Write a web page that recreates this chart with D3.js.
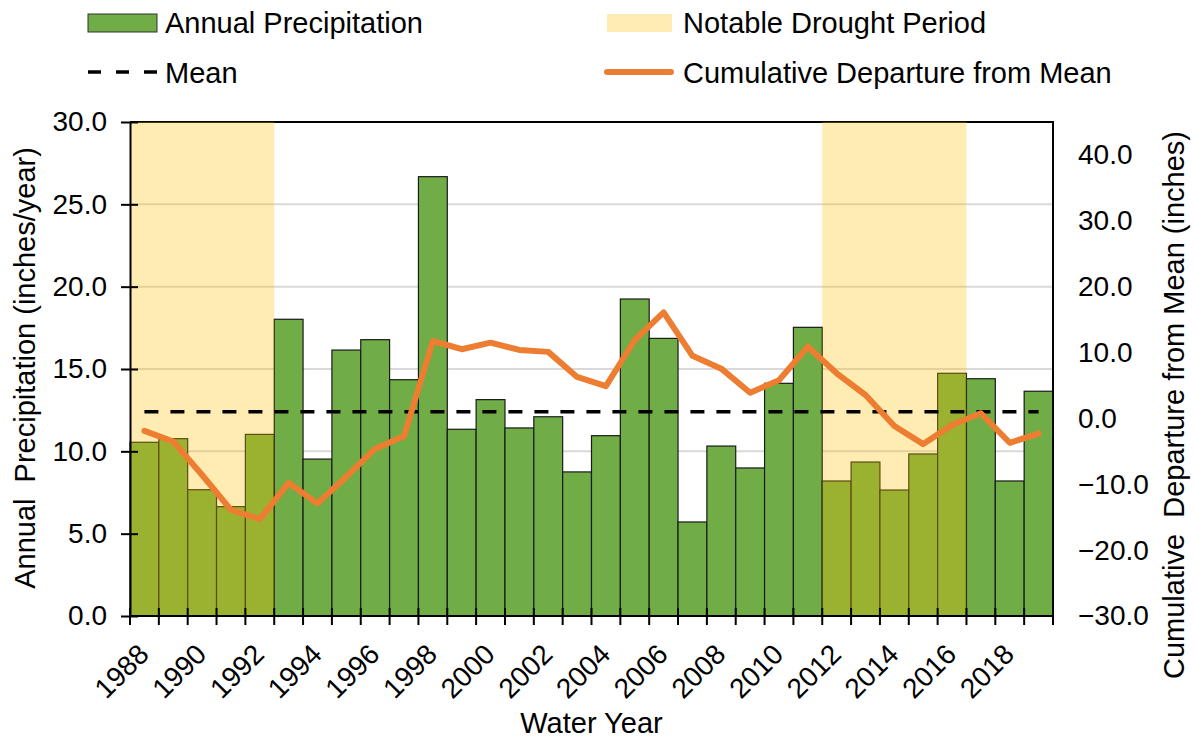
<!DOCTYPE html>
<meta charset="utf-8">
<html>
<head>
<style>
  body { margin: 0; background: #fff; }
  text { font-family: "Liberation Sans", Arial, sans-serif; fill: #000; }
  .title { white-space: pre; }
</style>
</head>
<body>
<div id="chart"></div>

<script src="https://d3js.org/d3.v7.min.js"></script>

<script>
  // values
  var years = [1988, 1989, 1990, 1991, 1992, 1993, 1994, 1995, 1996, 1997,
               1998, 1999, 2000, 2001, 2002, 2003, 2004, 2005, 2006, 2007,
               2008, 2009, 2010, 2011, 2012, 2013, 2014, 2015, 2016, 2017,
               2018, 2019];
  var precip = [10.55, 10.77, 7.67, 6.64, 11.03, 18.02, 9.53, 16.15, 16.78, 14.35,
                26.68, 11.34, 13.14, 11.42, 12.10, 8.75, 10.95, 19.25, 16.86, 5.71,
                10.32, 8.99, 14.13, 17.53, 8.20, 9.35, 7.65, 9.84, 14.74, 14.41,
                8.20, 13.65];
  var cumDeparture = [-1.9, -3.5, -8.6, -13.9, -15.3, -9.8, -12.9, -8.85, -4.6, -2.7,
                      11.75, 10.5, 11.5, 10.4, 10.1, 6.3, 4.9, 11.9, 16.1, 9.5,
                      7.55, 3.9, 5.8, 10.9, 6.85, 3.55, -1.15, -3.9, -1.0, 0.77,
                      -3.7, -2.3];
  var meanPrecip = 12.41;
  var droughtStart = [1988, 2012];
  var droughtEnd = [1992, 2016];
  var leftTicks = [0, 5, 10, 15, 20, 25, 30];
  var rightTicks = [-30, -20, -10, 0, 10, 20, 30, 40];
  var labelYears = [1988, 1990, 1992, 1994, 1996, 1998, 2000, 2002, 2004, 2006,
                    2008, 2010, 2012, 2014, 2016, 2018];

  var green = "#70AD47", gold = "#FFC000", orange = "#ED7D31";

  var margin = {top: 122, right: 142, bottom: 126, left: 130},
      width = 1195 - margin.left - margin.right,
      height = 742 - margin.top - margin.bottom;

  var root = d3.select("#chart")
    .append("svg")
      .attr("width", 1195)
      .attr("height", 742);

  var svg = root.append("g")
      .attr("transform", "translate(" + margin.left + "," + margin.top + ")");

  var x = d3.scaleBand().domain(years).range([0, width]).padding(0);
  var y = d3.scaleLinear().domain([0, 30]).range([height, 0]);
  var y2 = d3.scaleLinear().domain([-30, 45]).range([height, 0]);
  var bw = x.bandwidth();

  // gridlines
  svg.append("g")
    .selectAll("line")
    .data(leftTicks.filter(function(d) { return d > 0 && d < 30; }))
    .enter().append("line")
      .attr("x1", 0).attr("x2", width)
      .attr("y1", function(d) { return y(d); })
      .attr("y2", function(d) { return y(d); })
      .attr("stroke", "#d9d9d9")
      .attr("stroke-width", 2);

  // bars
  svg.append("g")
    .selectAll("rect")
    .data(years)
    .enter().append("rect")
      .attr("x", function(d) { return x(d); })
      .attr("y", function(d, i) { return y(precip[i]); })
      .attr("width", bw)
      .attr("height", function(d, i) { return height - y(precip[i]); })
      .attr("fill", green)
      .attr("stroke", "#1a1a1a")
      .attr("stroke-width", 1.2);

  // plot frame (top / right)
  svg.append("path")
    .attr("d", "M0,0H" + width + "V" + height)
    .attr("fill", "none")
    .attr("stroke", "#000")
    .attr("stroke-width", 2);

  // drought periods, translucent over the bars
  svg.append("g")
    .selectAll("rect")
    .data(droughtStart)
    .enter().append("rect")
      .attr("x", function(d) { return x(d); })
      .attr("y", 0)
      .attr("width", function(d, i) { return x(droughtEnd[i]) + bw - x(d); })
      .attr("height", height)
      .attr("fill", gold)
      .attr("fill-opacity", 0.3);

  // left axis
  var gy = svg.append("g")
    .call(d3.axisLeft(y).tickValues(leftTicks).tickFormat(d3.format(".1f"))
      .tickSizeInner(9).tickSizeOuter(0).tickPadding(14));
  gy.select(".domain").attr("stroke-width", 2);
  gy.selectAll(".tick line").attr("x1", 8).attr("stroke-width", 2);
  gy.selectAll(".tick text").style("font-size", "28px");

  // right axis (labels only)
  var gy2 = svg.append("g")
    .attr("transform", "translate(" + width + ",0)")
    .call(d3.axisRight(y2).tickValues(rightTicks).tickFormat(d3.format(".1f"))
      .tickSize(0).tickPadding(25));
  gy2.select(".domain").remove();
  gy2.selectAll(".tick text").style("font-size", "28px");

  // bottom axis
  var gx = svg.append("g").attr("transform", "translate(0," + height + ")");
  gx.append("line")
    .attr("x1", 0).attr("x2", width)
    .attr("stroke", "#000").attr("stroke-width", 2);
  gx.selectAll(".edge")
    .data(years.concat([null]))
    .enter().append("line")
      .attr("class", "edge")
      .attr("x1", function(d) { return d === null ? width : x(d); })
      .attr("x2", function(d) { return d === null ? width : x(d); })
      .attr("y1", -8).attr("y2", 9)
      .attr("stroke", "#000").attr("stroke-width", 2);
  gx.selectAll(".lbl")
    .data(labelYears)
    .enter().append("text")
      .attr("class", "lbl")
      .attr("transform", function(d) {
        return "translate(" + (x(d) + bw / 2 + 6) + ",40) rotate(-45)";
      })
      .attr("text-anchor", "end")
      .style("font-size", "28px")
      .text(function(d) { return d; });

  // mean line
  svg.append("line")
    .attr("x1", x(years[0]) + bw / 2)
    .attr("x2", x(years[years.length - 1]) + bw / 2)
    .attr("y1", y(meanPrecip))
    .attr("y2", y(meanPrecip))
    .attr("stroke", "#000")
    .attr("stroke-width", 3.5)
    .attr("stroke-dasharray", "14,12");

  // cumulative departure line
  svg.append("path")
    .datum(years)
    .attr("fill", "none")
    .attr("stroke", orange)
    .attr("stroke-width", 6)
    .attr("stroke-linejoin", "round")
    .attr("stroke-linecap", "round")
    .attr("d", d3.line()
      .x(function(d) { return x(d) + bw / 2; })
      .y(function(d, i) { return y2(cumDeparture[i]); }));

  // axis titles
  root.append("text")
    .attr("x", margin.left + width / 2)
    .attr("y", 733)
    .attr("text-anchor", "middle")
    .style("font-size", "29px")
    .text("Water Year");
  root.append("text")
    .attr("class", "title")
    .attr("transform", "translate(35,368) rotate(-90)")
    .attr("text-anchor", "middle")
    .style("font-size", "29px")
    .text("Annual  Precipitation (inches/year)");
  root.append("text")
    .attr("class", "title")
    .attr("transform", "translate(1184,405) rotate(-90)")
    .attr("text-anchor", "middle")
    .style("font-size", "29px")
    .text("Cumulative  Departure from Mean (inches)");

  // legend
  var leg = root.append("g");
  leg.append("rect")
    .attr("x", 88).attr("y", 14).attr("width", 69).attr("height", 18)
    .attr("fill", green).attr("stroke", "#333").attr("stroke-width", 1);
  leg.append("text").attr("x", 165).attr("y", 33)
    .style("font-size", "29px").text("Annual Precipitation");
  leg.append("line")
    .attr("x1", 88).attr("x2", 157).attr("y1", 72).attr("y2", 72)
    .attr("stroke", "#000").attr("stroke-width", 3.5)
    .attr("stroke-dasharray", "13,15");
  leg.append("text").attr("x", 165).attr("y", 83)
    .style("font-size", "29px").text("Mean");
  leg.append("rect")
    .attr("x", 607).attr("y", 14).attr("width", 65).attr("height", 18)
    .attr("fill", gold).attr("fill-opacity", 0.3);
  leg.append("text").attr("x", 683).attr("y", 33)
    .style("font-size", "29px").text("Notable Drought Period");
  leg.append("line")
    .attr("x1", 607).attr("x2", 671).attr("y1", 72).attr("y2", 72)
    .attr("stroke", orange).attr("stroke-width", 6)
    .attr("stroke-linecap", "round");
  leg.append("text").attr("x", 683).attr("y", 83)
    .style("font-size", "29px").text("Cumulative Departure from Mean");
</script>
</body>
</html>
